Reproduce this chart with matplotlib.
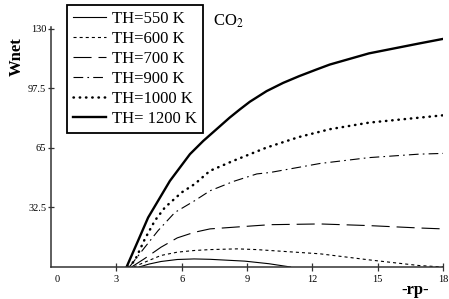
import numpy as np
import matplotlib
matplotlib.use("Agg")
import matplotlib.pyplot as plt
import matplotlib.transforms as mtransforms

plt.rcParams['font.family'] = ['Liberation Serif', 'DejaVu Serif']
plt.rcParams['mathtext.fontset'] = 'stix'
plt.rcParams['lines.scale_dashes'] = False

# values (rp, Wnet)
rp_550 = [4.05, 4.5, 5.05, 5.8, 6.57, 7.3, 8.9, 10.0, 11.0]
w_550 = [0.0, 1.6, 3.0, 4.1, 4.4, 4.2, 3.2, 1.8, 0.0]

rp_600 = [3.8, 4.3, 5.05, 5.8, 6.57, 7.3, 8.55, 9.45, 10.07, 12.35, 14.6, 16.9, 18.0]
w_600 = [0.0, 2.6, 6.3, 8.1, 9.0, 9.5, 9.9, 9.5, 9.0, 7.2, 3.9, 0.8, 0.0]

rp_700 = [3.7, 4.3, 5.05, 5.8, 6.57, 7.3, 9.45, 10.07, 12.35, 14.6, 16.9, 18.0]
w_700 = [0.0, 4.6, 10.8, 15.9, 18.9, 20.8, 22.6, 23.1, 23.5, 22.6, 21.3, 20.8]

rp_900 = [3.6, 4.31, 4.92, 5.69, 6.6, 7.3, 8.4, 9.45, 10.07, 12.35, 14.6, 16.9, 18.0]
w_900 = [0.0, 10.8, 19.9, 29.8, 36.2, 41.6, 46.8, 50.8, 51.6, 56.5, 59.7, 61.6, 62.0]

rp_1000 = [3.55, 3.85, 4.31, 4.77, 5.23, 6.0, 6.6, 7.3, 8.36, 9.9, 11.4, 12.8, 14.6, 16.9, 18.0]
w_1000 = [0.0, 3.5, 15.3, 25.3, 32.5, 40.7, 45.3, 52.5, 57.9, 65.2, 71.0, 75.2, 78.8, 81.5, 82.8]

rp_1200 = [3.47, 4.0, 4.46, 4.92, 5.46, 5.92, 6.38, 6.99, 7.6, 8.2, 8.67, 9.13, 9.9, 10.66,
           11.4, 12.19, 12.8, 14.6, 16.9, 18.0]
w_1200 = [0.0, 14.4, 27.0, 36.2, 47.0, 54.3, 61.6, 68.8, 75.2, 81.5, 86.0, 90.2, 96.0, 100.5,
          104.2, 107.8, 110.5, 116.6, 122.0, 124.5]

x_ticks = [0, 3, 6, 9, 12, 15, 18]
y_ticks = [32.5, 65, 97.5, 130]
y_tick_labels = ['32.5', '65', '97.5', '130']

fig = plt.figure(figsize=(4.49, 2.99), dpi=100)
ax = fig.add_axes([51/449, 32/299, 392/449, 240/299])

ax.plot(rp_550, w_550, color='black', lw=0.8, label='TH=550 K')
ax.plot(rp_600, w_600, color='black', lw=0.8, linestyle=(0, (2.2, 2.2)), label='TH=600 K')
ax.plot(rp_700, w_700, color='black', lw=0.8, linestyle=(0, (13, 5)), label='TH=700 K')
ax.plot(rp_900, w_900, color='black', lw=0.8, linestyle=(0, (7, 3, 1.2, 3)), label='TH=900 K')
ax.plot(rp_1000, w_1000, color='black', lw=1.8, linestyle=(0, (0.3, 4.2)),
        dash_capstyle='round', label='TH=1000 K')
ax.plot(rp_1200, w_1200, color='black', lw=1.7, label='TH= 1200 K')

ax.set_xlim(0, 18)
ax.set_ylim(0, 131)
for s in ['top', 'right']:
    ax.spines[s].set_visible(False)
for s in ['left', 'bottom']:
    ax.spines[s].set_linewidth(1.1)
    ax.spines[s].set_color('#333333')

ax.set_xticks(x_ticks)
ax.set_yticks(y_ticks)
ax.set_yticklabels(y_tick_labels)
ax.tick_params(axis='both', direction='inout', length=6, width=0.9, labelsize=7.5,
               color='#333333', pad=2)
ax.tick_params(axis='x', pad=3)
ax.tick_params(axis='y', length=5, pad=1)
ax.xaxis.get_major_ticks()[0].tick1line.set_visible(False)
# shift the "0" label a little to the right, as in the original
lbl0 = ax.get_xticklabels()[0]
lbl0.set_transform(lbl0.get_transform() + mtransforms.ScaledTranslation(6/100, 0, fig.dpi_scale_trans))

fig.text(17/449, 1 - 57/299, 'Wnet', rotation=90, fontsize=12, fontweight='bold',
         ha='center', va='center')
fig.text(415/449, 1 - 290/299, '-rp-', fontsize=12, fontweight='bold',
         ha='center', va='center')
fig.text(213/449, 1 - 21/299, r'CO$_2$', fontsize=12, ha='left', va='center')

leg = ax.legend(loc='upper left', bbox_to_anchor=(67/449, 1 - 5/299),
                bbox_transform=fig.transFigure, borderaxespad=0, fontsize=12,
                handlelength=2.0, handletextpad=0.35, labelspacing=0.24,
                borderpad=0.35, fancybox=False, framealpha=1)
leg.get_frame().set_edgecolor('black')
leg.get_frame().set_linewidth(1.3)

fig.savefig('out.png', dpi=100)
